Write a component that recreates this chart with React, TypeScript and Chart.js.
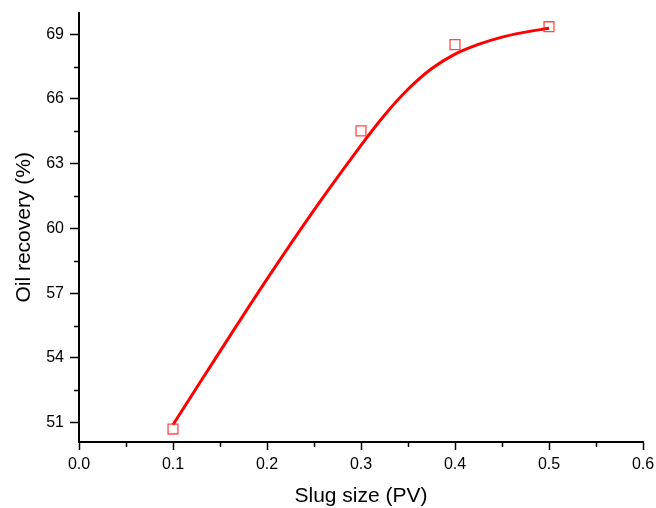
import React, { useEffect, useRef } from "react";
import { Chart, registerables } from "chart.js";

Chart.register(...registerables);

// Measured points
const slugSize = [0.1, 0.3, 0.4, 0.5];
const oilRecovery = [50.7, 64.52, 68.52, 69.35];

// Fitted curve
const fitX = [0.1, 0.15, 0.2, 0.25, 0.3, 0.325, 0.35, 0.375, 0.4, 0.425, 0.45, 0.475, 0.5];
const fitY = [50.9, 54.3, 57.65, 60.85, 63.85, 65.25, 66.45, 67.4, 68.08, 68.53, 68.87, 69.1, 69.28];

// Axis ticks
const xTicks = [0, 0.1, 0.2, 0.3, 0.4, 0.5, 0.6];
const xTickLabels = ["0.0", "0.1", "0.2", "0.3", "0.4", "0.5", "0.6"];
const xMinor = [0.05, 0.15, 0.25, 0.35, 0.45, 0.55];
const yTicks = [51, 54, 57, 60, 63, 66, 69];
const yTickLabels = ["51", "54", "57", "60", "63", "66", "69"];
const yMinor = [52.5, 55.5, 58.5, 61.5, 64.5, 67.5];

const FONT = "'Liberation Sans', Arial, sans-serif";

const minorTickPlugin = {
  id: "minorTicks",
  afterDraw(chart: any) {
    const { ctx, chartArea, scales } = chart;
    const x = scales.x;
    const y = scales.y;
    ctx.save();
    ctx.strokeStyle = "#000";
    ctx.lineWidth = 1.5;
    ctx.beginPath();
    for (const v of xMinor) {
      const px = Math.round(x.getPixelForValue(v)) + 0.5;
      ctx.moveTo(px, chartArea.bottom);
      ctx.lineTo(px, chartArea.bottom + 5);
    }
    for (const v of yMinor) {
      const py = Math.round(y.getPixelForValue(v)) + 0.5;
      ctx.moveTo(chartArea.left - 5, py);
      ctx.lineTo(chartArea.left, py);
    }
    ctx.stroke();
    ctx.restore();
  },
};

export default function App() {
  const ref = useRef<HTMLCanvasElement | null>(null);

  useEffect(() => {
    if (!ref.current) return;
    const chart = new Chart(ref.current, {
      type: "scatter",
      data: {
        datasets: [
          {
            label: "fit",
            data: fitX.map((x, i) => ({ x, y: fitY[i] })),
            showLine: true,
            borderColor: "#ff0000",
            borderWidth: 3,
            pointRadius: 0,
            tension: 0.4,
            order: 2,
          } as any,
          {
            label: "data",
            data: slugSize.map((x, i) => ({ x, y: oilRecovery[i] })),
            pointStyle: "rect",
            pointRadius: 7,
            pointBorderWidth: 1.3,
            borderColor: "rgba(255,40,40,0.85)",
            backgroundColor: "rgba(255,255,255,0)",
            order: 1,
          } as any,
        ],
      },
      options: {
        responsive: false,
        animation: false,
        layout: { padding: { top: 12.7, right: 13, left: 0, bottom: 0 } },
        plugins: {
          legend: { display: false },
          tooltip: { enabled: false },
        },
        scales: {
          x: {
            type: "linear",
            min: 0,
            max: 0.6,
            afterBuildTicks: (scale: any) => {
              scale.ticks = xTicks.map((v) => ({ value: v }));
            },
            afterFit: (scale: any) => {
              scale.height = 66;
              scale.paddingLeft = 0;
              scale.paddingRight = 0;
            },
            ticks: {
              color: "#000",
              font: { family: FONT, size: 16 },
              padding: 5,
              maxRotation: 0,
              callback: (v: any) => {
                const i = xTicks.findIndex((t) => Math.abs(t - Number(v)) < 1e-9);
                return i >= 0 ? xTickLabels[i] : "";
              },
            },
            grid: {
              display: true,
              drawOnChartArea: false,
              drawTicks: true,
              tickLength: 8,
              tickColor: "#000",
              tickWidth: 1.5,
            },
            border: { display: true, color: "#000", width: 2 },
            title: {
              display: true,
              text: "Slug size (PV)",
              color: "#000",
              font: { family: FONT, size: 21 },
              padding: { top: 0, bottom: -1 },
            },
          },
          y: {
            type: "linear",
            min: 50.1,
            max: 70,
            afterBuildTicks: (scale: any) => {
              scale.ticks = yTicks.map((v) => ({ value: v }));
            },
            afterFit: (scale: any) => {
              scale.width = 79;
              scale.paddingTop = 0;
              scale.paddingBottom = 0;
            },
            ticks: {
              color: "#000",
              font: { family: FONT, size: 16 },
              padding: 6,
              callback: (v: any) => {
                const i = yTicks.findIndex((t) => Math.abs(t - Number(v)) < 1e-9);
                return i >= 0 ? yTickLabels[i] : "";
              },
            },
            grid: {
              display: true,
              drawOnChartArea: false,
              drawTicks: true,
              tickLength: 9,
              tickColor: "#000",
              tickWidth: 1.5,
            },
            border: { display: true, color: "#000", width: 2 },
            title: {
              display: true,
              text: "Oil recovery (%)",
              color: "#000",
              font: { family: FONT, size: 21 },
              padding: { top: 12, bottom: 0 },
            },
          },
        },
      },
      plugins: [minorTickPlugin],
    });
    return () => chart.destroy();
  }, []);

  return (
    <div style={{ position: "absolute", left: 0, top: 0, width: 656, height: 508, background: "#fff" }}>
      <canvas ref={ref} width={656} height={508} style={{ display: "block" }} />
    </div>
  );
}
